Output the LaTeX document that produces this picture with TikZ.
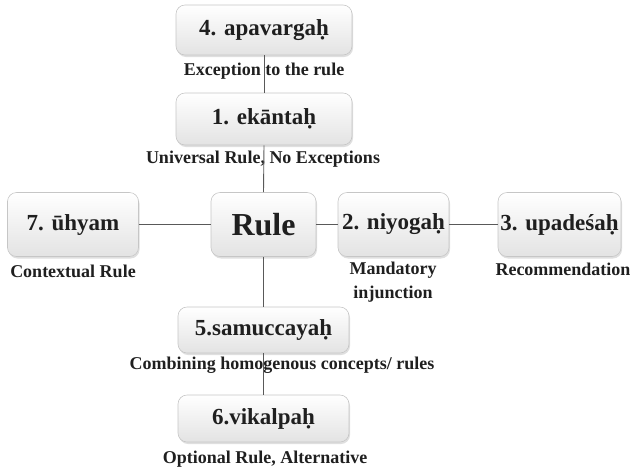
\documentclass[tikz,border=0pt]{standalone}
\usepackage{fontspec}
\setmainfont{Liberation Serif}
\usetikzlibrary{shadows}
\begin{document}
\begin{tikzpicture}[x=1pt,y=-1pt,
  box/.style={draw=gray!45, line width=0.6pt, rounded corners=9pt, top color=white, bottom color=gray!22,
    drop shadow={opacity=0.25, shadow xshift=1pt, shadow yshift=-2pt},
    inner sep=0pt, font=\fontsize{23}{25}\selectfont\bfseries, text=black!88},
  lbl/.style={anchor=base, font=\fontsize{18}{24}\selectfont\bfseries, text=black!88, inner sep=0pt, align=center},
  conn/.style={draw=black!65, line width=0.9pt}]
\useasboundingbox (0,0) rectangle (631,472);
\node[box, minimum width=176pt, minimum height=50pt] (apa) at (264,30) {4. apavargaḥ};
\node[box, minimum width=176pt, minimum height=52pt] (eka) at (264,119) {1. ekāntaḥ};
\node[box, minimum width=105pt, minimum height=64pt, font=\fontsize{32}{34}\selectfont\bfseries] (rule) at (263.5,224.5) {Rule};
\node[box, minimum width=131pt, minimum height=64pt] (uhy) at (73,224.5) {7. ūhyam};
\node[box, minimum width=111pt, minimum height=64pt] (niy) at (393.5,224.5) {2. niyogaḥ};
\node[box, minimum width=123pt, minimum height=64pt] (upa) at (559.5,224.5) {3. upadeśaḥ};
\node[box, minimum width=171pt, minimum height=46pt] (sam) at (263.5,330) {5.samuccayaḥ};
\node[box, minimum width=171pt, minimum height=47pt] (vik) at (263.5,418.5) {6.vikalpaḥ};

\node[lbl] (l4) at (264,75) {Exception to the rule};
\node[lbl] (l1) at (263,163) {Universal Rule, No Exceptions};
\node[lbl] (l7) at (73,277) {Contextual Rule};
\node[lbl] (l2) at (393,298) {Mandatory\\injunction};
\node[lbl] (l3) at (563,275) {Recommendation};
\node[lbl] (l5) at (282,369) {Combining homogenous concepts/ rules};
\node[lbl] (l6) at (265,463) {Optional Rule, Alternative};

\draw[conn] (apa.south) -- (eka.north);
\draw[conn] (eka.south) -- (rule.north);
\draw[conn] (rule.south) -- (sam.north);
\draw[conn] (sam.south) -- (vik.north);
\draw[conn] (uhy.east) -- (rule.west);
\draw[conn] (rule.east) -- (niy.west);
\draw[conn] (niy.east) -- (upa.west);
\end{tikzpicture}
\end{document}
